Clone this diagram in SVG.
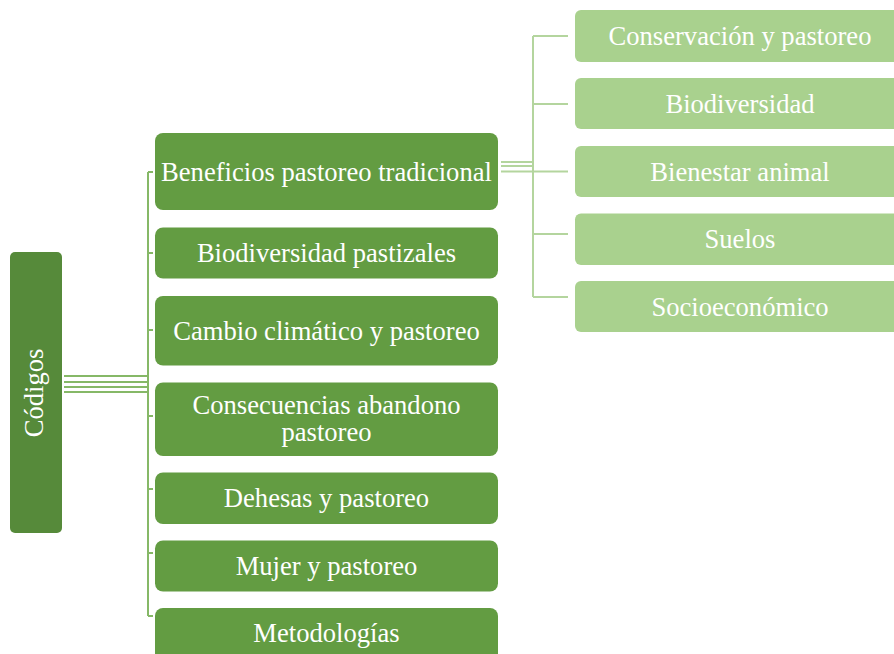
<svg xmlns="http://www.w3.org/2000/svg" width="894" height="654" viewBox="0 0 894 654">
<style>
.root{fill:#568a3a}
.l1{fill:#639c42}
.l2{fill:#a9d18e}
.t{font-family:"Liberation Serif","Times New Roman",serif;font-size:26.6px;fill:#ffffff;text-anchor:middle}
.c1{stroke:#86b867;stroke-width:2;fill:none}
.c2{stroke:#b4d59e;stroke-width:2;fill:none}
</style>
<rect width="894" height="654" fill="#ffffff"/>
<g id="connectors">
<path class="c1" d="M64 376H148M64 382H148M64 387H148M64 392H148"/>
<path class="c1" d="M148 172V616M148 172H153M148 253H153M148 330H153M148 416H153M148 489H153M148 553H153M148 616H153"/>
<path class="c2" d="M501 162H533M501 166H533M501 171.5H568"/>
<path class="c2" d="M533 36V297M533 36H568M533 104H568M533 234H568M533 297H568"/>
</g>
<g id="codigos">
<rect class="root" x="10" y="252" width="52" height="281" rx="5"/>
<text class="t" transform="translate(43,393) rotate(-90)">Códigos</text>
</g>
<g id="n1"><rect class="l1" x="155" y="133" width="343" height="77" rx="8"/><text class="t" x="326.5" y="180.5">Beneficios pastoreo tradicional</text></g>
<g id="n2"><rect class="l1" x="155" y="227.5" width="343" height="51" rx="8"/><text class="t" x="326.5" y="262">Biodiversidad pastizales</text></g>
<g id="n3"><rect class="l1" x="155" y="296" width="343" height="69.5" rx="8"/><text class="t" x="326.5" y="339.5">Cambio climático y pastoreo</text></g>
<g id="n4"><rect class="l1" x="155" y="382.5" width="343" height="73.5" rx="8"/><text class="t" x="326.5" y="414">Consecuencias abandono</text><text class="t" x="326.5" y="441">pastoreo</text></g>
<g id="n5"><rect class="l1" x="155" y="472.5" width="343" height="51.5" rx="8"/><text class="t" x="326.5" y="507">Dehesas y pastoreo</text></g>
<g id="n6"><rect class="l1" x="155" y="540.5" width="343" height="51" rx="8"/><text class="t" x="326.5" y="575">Mujer y pastoreo</text></g>
<g id="n7"><rect class="l1" x="155" y="608" width="343" height="70" rx="8"/><text class="t" x="326.5" y="642">Metodologías</text></g>
<g id="m1"><rect class="l2" x="575" y="10" width="330" height="52" rx="6"/><text class="t" x="740" y="45">Conservación y pastoreo</text></g>
<g id="m2"><rect class="l2" x="575" y="78" width="330" height="51" rx="6"/><text class="t" x="740" y="112.5">Biodiversidad</text></g>
<g id="m3"><rect class="l2" x="575" y="146" width="330" height="51" rx="6"/><text class="t" x="740" y="180.5">Bienestar animal</text></g>
<g id="m4"><rect class="l2" x="575" y="213.5" width="330" height="51.5" rx="6"/><text class="t" x="740" y="248">Suelos</text></g>
<g id="m5"><rect class="l2" x="575" y="281" width="330" height="51" rx="6"/><text class="t" x="740" y="315.5">Socioeconómico</text></g>
</svg>
